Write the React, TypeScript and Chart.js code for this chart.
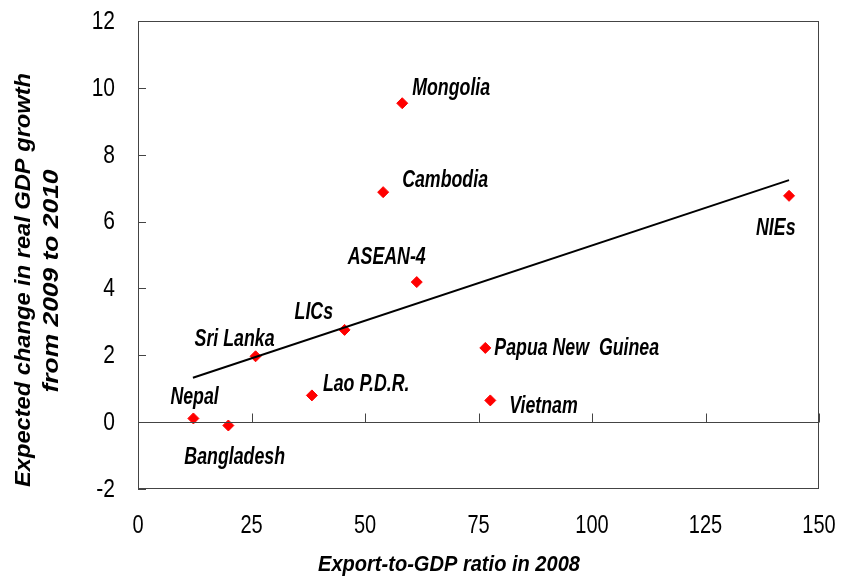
import React, { useEffect, useRef } from "react";
import { Chart, registerables } from "chart.js";

Chart.register(...registerables);

const countries = ["Nepal", "Bangladesh", "Sri Lanka", "LICs", "Lao P.D.R.", "Papua New  Guinea", "Vietnam", "Mongolia", "Cambodia", "ASEAN-4", "NIEs"];
const exportRatio = [12.2, 19.9, 25.9, 45.5, 38.3, 76.5, 77.6, 58.2, 54.0, 61.4, 143.4];
const growthChange = [0.11, -0.1, 1.97, 2.76, 0.8, 2.22, 0.65, 9.54, 6.88, 4.19, 6.77];
const trendX = [12.1, 143.4];
const trendY = [1.33, 7.24];
const xTickValues = [0, 25, 50, 75, 100, 125, 150];
const yTickValues = [-2, 0, 2, 4, 6, 8, 10, 12];
const xTitle = "Export-to-GDP ratio in 2008";
const yTitleLines = ["Expected change in real GDP growth", "from 2009 to 2010"];

// label placement relative to point (layout only): left edge offset, vertical centre offset
const labelOffsets: [number, number][] = [
  [-23, -21], [-44, 32], [-61, -17], [-50, -18], [11, -11], [9, 0], [19, 6], [10, -15], [19, -12], [-69, -25], [-33, 33],
];

const FONT = '"Liberation Sans", Arial, sans-serif';

function drawScaled(ctx: CanvasRenderingContext2D, text: string, x: number, y: number, sx: number, align: CanvasTextAlign) {
  ctx.save();
  ctx.translate(x, y);
  ctx.scale(sx, 1);
  ctx.textAlign = align;
  ctx.fillText(text, 0, 0);
  ctx.restore();
}

function drawFitted(ctx: CanvasRenderingContext2D, text: string, x: number, y: number, width: number, rot: number) {
  const w = ctx.measureText(text).width;
  ctx.save();
  ctx.translate(x, y);
  ctx.rotate(rot);
  ctx.scale(width / w, 1);
  ctx.textAlign = "center";
  ctx.fillText(text, 0, 0);
  ctx.restore();
}

const decorPlugin = {
  id: "decor",
  afterDatasetsDraw(chart: any) {
    const ctx: CanvasRenderingContext2D = chart.ctx;
    const { left, right, top, bottom } = chart.chartArea;
    const xs = chart.scales.x;
    const ys = chart.scales.y;
    ctx.save();
    ctx.strokeStyle = "#444";
    ctx.lineWidth = 1;
    // frame
    ctx.strokeRect(left + 0.5, top + 0.5, right - left - 1, bottom - top - 1);
    // zero line
    const y0 = Math.round(ys.getPixelForValue(0)) + 0.5;
    ctx.beginPath();
    ctx.moveTo(left, y0);
    ctx.lineTo(right, y0);
    xs.ticks.forEach((t: any) => {
      const px = Math.round(xs.getPixelForValue(t.value)) + 0.5;
      ctx.moveTo(px, y0);
      ctx.lineTo(px, y0 - 9);
    });
    ys.ticks.forEach((t: any) => {
      const py = Math.round(ys.getPixelForValue(t.value)) + 0.5;
      ctx.moveTo(left, py);
      ctx.lineTo(left + 8, py);
    });
    ctx.stroke();

    ctx.fillStyle = "#000";
    ctx.textBaseline = "middle";
    // tick labels
    ctx.font = `25px ${FONT}`;
    xs.ticks.forEach((t: any) => {
      drawScaled(ctx, String(t.label), xs.getPixelForValue(t.value), 526, 0.8, "center");
    });
    ys.ticks.forEach((t: any) => {
      drawScaled(ctx, String(t.label), 115, ys.getPixelForValue(t.value) + 1, 0.84, "right");
    });

    // point labels
    ctx.font = `italic bold 24px ${FONT}`;
    countries.forEach((c, i) => {
      const px = xs.getPixelForValue(exportRatio[i]);
      const py = ys.getPixelForValue(growthChange[i]);
      const [dx, dy] = labelOffsets[i];
      drawScaled(ctx, c, px + dx, py + dy, 0.74, "left");
    });

    // axis titles
    ctx.font = `italic bold 22px ${FONT}`;
    drawFitted(ctx, xTitle, 449, 565, 262, 0);
    drawFitted(ctx, yTitleLines[0], 24, 280, 414, -Math.PI / 2);
    drawFitted(ctx, yTitleLines[1], 52, 281, 223, -Math.PI / 2);
    ctx.restore();
  },
};

export default function App() {
  const ref = useRef<HTMLCanvasElement>(null);
  useEffect(() => {
    if (!ref.current) return;
    const chart = new Chart(ref.current, {
      type: "scatter",
      data: {
        datasets: [
          {
            type: "line",
            label: "Trend",
            data: trendX.map((x, i) => ({ x, y: trendY[i] })),
            borderColor: "#000",
            borderWidth: 2,
            pointRadius: 0,
            fill: false,
          } as any,
          {
            label: "Countries",
            data: exportRatio.map((x, i) => ({ x, y: growthChange[i] })),
            pointStyle: "rectRot",
            pointRadius: 5.5,
            backgroundColor: "#ff0000",
            borderColor: "#ff0000",
            borderWidth: 1,
          },
        ],
      },
      options: {
        animation: false,
        responsive: false,
        layout: { padding: { left: 0, top: 21, right: 23, bottom: 0 } },
        plugins: { legend: { display: false }, tooltip: { enabled: false } },
        scales: {
          x: {
            type: "linear",
            min: xTickValues[0],
            max: xTickValues[xTickValues.length - 1],
            grid: { display: false, drawTicks: false },
            border: { display: false },
            ticks: { stepSize: xTickValues[1] - xTickValues[0], display: false },
            afterFit: (s: any) => { s.height = 91; s.paddingLeft = 0; s.paddingRight = 0; },
          },
          y: {
            type: "linear",
            min: yTickValues[0],
            max: yTickValues[yTickValues.length - 1],
            grid: { display: false, drawTicks: false },
            border: { display: false },
            ticks: { stepSize: yTickValues[1] - yTickValues[0], display: false },
            afterFit: (s: any) => { s.width = 138; s.paddingTop = 0; s.paddingBottom = 0; },
          },
        },
      },
      plugins: [decorPlugin],
    });
    return () => chart.destroy();
  }, []);
  return (
    <div style={{ position: "absolute", left: 0, top: 0, width: 842, height: 580, background: "#fff" }}>
      <canvas ref={ref} width={842} height={580} />
    </div>
  );
}
